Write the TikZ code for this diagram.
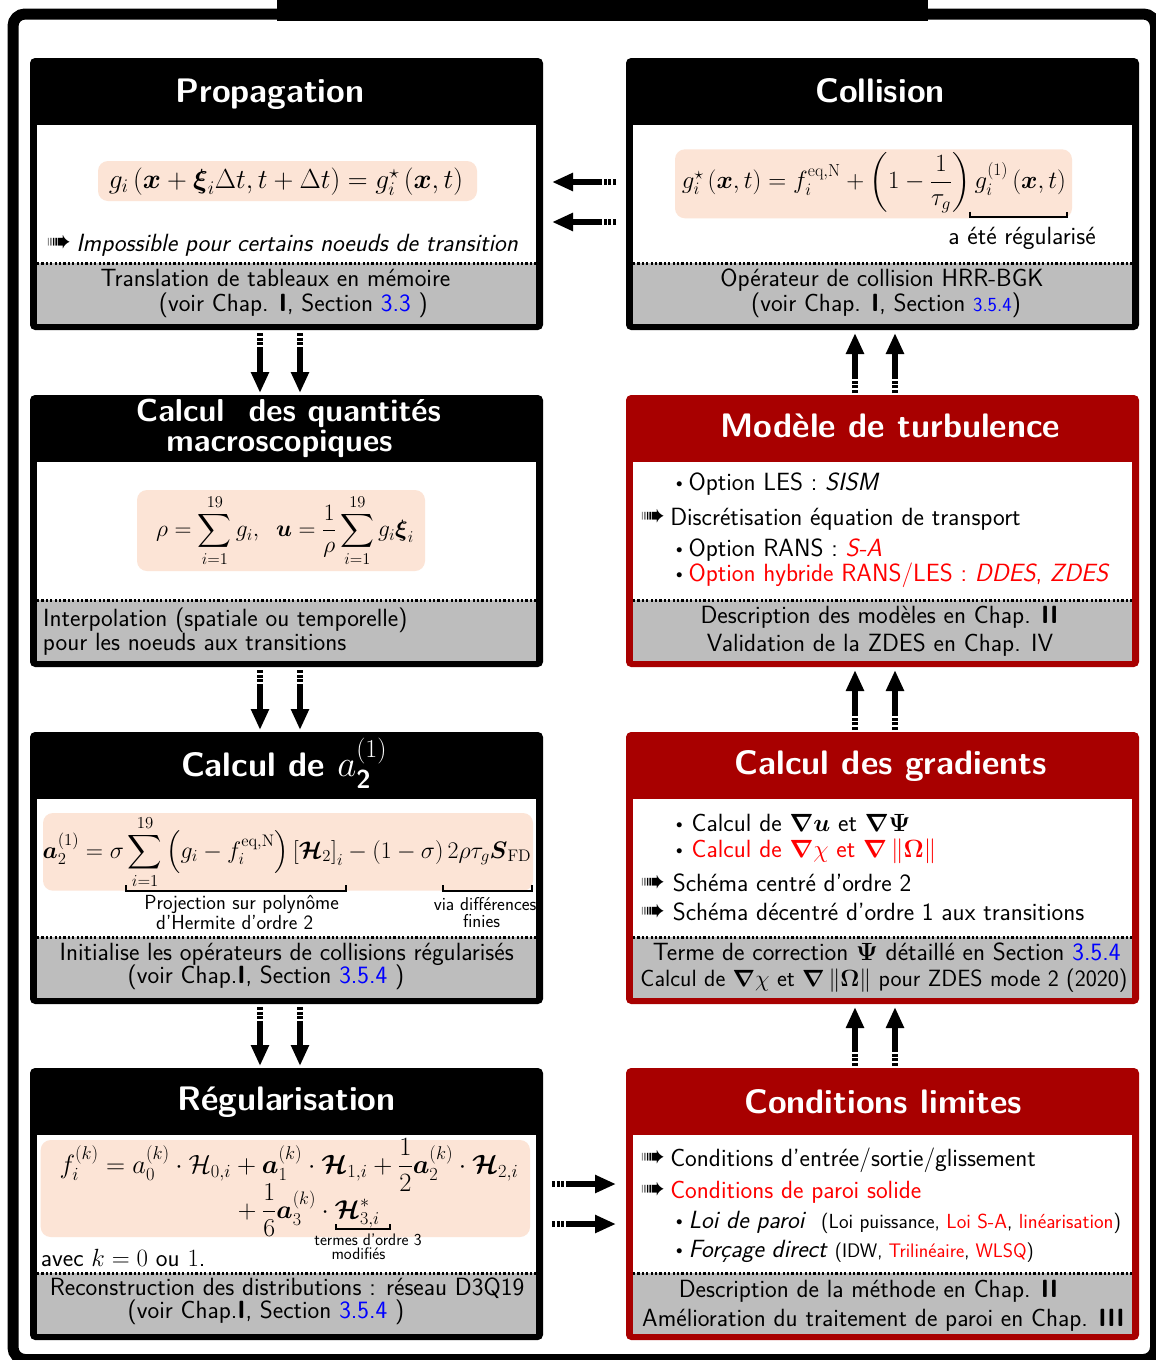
\RequirePackage{fix-cm}
\documentclass[tikz,border=0pt]{standalone}
\usepackage{amsmath,amssymb}
\usepackage{pifont}
\usetikzlibrary{arrows.meta,calc}

\definecolor{hdrred}{RGB}{168,0,0}
\definecolor{peach}{RGB}{252,228,214}
\definecolor{band}{RGB}{189,189,189}
\definecolor{refblue}{RGB}{0,0,255}

% list markers
\newcommand\itembul[1][6pt]{\raisebox{3pt}{\fontsize{13}{13}\selectfont$\bullet$}\hspace{#1}}
\newcommand\itemarr[1][5.5pt]{{\fontsize{27}{27}\selectfont\ding{224}}\hspace{#1}}

% one step of the loop: coloured frame with title band, white body and grey footer
\newcommand\drawpanel[4]{% name, frame colour, left x, top y
  \node[fill=#2, rounded corners=5pt, minimum width=513pt, minimum height=272pt,
        inner sep=0pt, outer sep=0pt, anchor=north west] (#1) at (#3,#4) {};
  \fill[white] ({#3+7},{#4+67}) rectangle ({#3+506},{#4+205});
  \fill[band] ({#3+7},{#4+205}) rectangle ({#3+506},{#4+266});
  \draw[line width=3pt, dash pattern=on 2.2pt off 2.2pt] ({#3+7},{#4+205}) -- ({#3+506},{#4+205});
}

% thick arrow with a broken tail
\newcommand\flowarrow[2]{%
  \draw[flow, dash pattern=on 3pt off 1.6pt] (#1) -- ($(#1)!0.28!(#2)$);
  \draw[flow, -{Triangle[length=21pt,width=17pt]}] ($(#1)!0.27!(#2)$) -- (#2);
}

\begin{document}
\begin{tikzpicture}[x=1pt,y=-1pt,
  hdr/.style={text=white, font=\sffamily\bfseries\fontsize{34}{36}\selectfont, inner sep=0pt, anchor=base},
  txt/.style={font=\sffamily\fontsize{24.9}{28}\selectfont, inner sep=0pt, anchor=base},
  note/.style={font=\sffamily\fontsize{20.4}{22}\selectfont, inner sep=0pt, anchor=base},
  notesm/.style={font=\sffamily\fontsize{18.6}{20}\selectfont, inner sep=0pt, anchor=base},
  notexs/.style={font=\sffamily\fontsize{16.7}{18}\selectfont, inner sep=0pt, anchor=base},
  eqn/.style={font=\fontsize{24.9}{30}\selectfont, inner sep=0pt, anchor=base},
  peachbox/.style={fill=peach, rounded corners=10pt},
  flow/.style={line width=5.5pt},
  brk/.style={line width=2pt},
]
\useasboundingbox (0,0) rectangle (1156,1360);

% outer frame and its title band
\draw[line width=11pt, rounded corners=12pt] (13,14) rectangle (1155.5,1359.5);
\fill (277,-2) rectangle (928,21);

% panels
\drawpanel{prop}{black}{30}{58}
\drawpanel{coll}{black}{626}{58}
\drawpanel{macro}{black}{30}{395}
\drawpanel{turb}{hdrred}{626}{395}
\drawpanel{atwo}{black}{30}{732}
\drawpanel{grad}{hdrred}{626}{732}
\drawpanel{regu}{black}{30}{1068}
\drawpanel{cond}{hdrred}{626}{1068}

% arrows between panels
\coordinate (a1s) at ($(prop.south)+(-26.5,3)$);  \coordinate (a1e) at ($(macro.north)+(-26.5,-2)$);
\coordinate (a2s) at ($(prop.south)+(13.5,3)$);   \coordinate (a2e) at ($(macro.north)+(13.5,-2)$);
\coordinate (a3s) at ($(macro.south)+(-26.5,3)$); \coordinate (a3e) at ($(atwo.north)+(-26.5,-2)$);
\coordinate (a4s) at ($(macro.south)+(13.5,3)$);  \coordinate (a4e) at ($(atwo.north)+(13.5,-2)$);
\coordinate (a5s) at ($(atwo.south)+(-26.5,3)$);  \coordinate (a5e) at ($(regu.north)+(-26.5,-2)$);
\coordinate (a6s) at ($(atwo.south)+(13.5,3)$);   \coordinate (a6e) at ($(regu.north)+(13.5,-2)$);
\coordinate (b1s) at ($(cond.north)+(-27.5,-2)$); \coordinate (b1e) at ($(grad.south)+(-27.5,3)$);
\coordinate (b2s) at ($(cond.north)+(12.5,-2)$);  \coordinate (b2e) at ($(grad.south)+(12.5,3)$);
\coordinate (b3s) at ($(grad.north)+(-27.5,-2)$); \coordinate (b3e) at ($(turb.south)+(-27.5,3)$);
\coordinate (b4s) at ($(grad.north)+(12.5,-2)$);  \coordinate (b4e) at ($(turb.south)+(12.5,3)$);
\coordinate (b5s) at ($(turb.north)+(-27.5,-2)$); \coordinate (b5e) at ($(coll.south)+(-27.5,3)$);
\coordinate (b6s) at ($(turb.north)+(12.5,-2)$);  \coordinate (b6e) at ($(coll.south)+(12.5,3)$);
\coordinate (h1s) at ($(coll.west)+(-10,-12)$);   \coordinate (h1e) at ($(prop.east)+(9,-12)$);
\coordinate (h2s) at ($(coll.west)+(-10,28)$);    \coordinate (h2e) at ($(prop.east)+(9,28)$);
\coordinate (h3s) at ($(regu.east)+(9,-20)$);     \coordinate (h3e) at ($(cond.west)+(-10,-20)$);
\coordinate (h4s) at ($(regu.east)+(9,20)$);      \coordinate (h4e) at ($(cond.west)+(-10,20)$);
\foreach \p in {a1,a2,a3,a4,a5,a6,b1,b2,b3,b4,b5,b6,h1,h2,h3,h4}{\flowarrow{\p s}{\p e}}

% Propagation
\node[hdr] (tProp) at (270,102.7) {Propagation};
\fill[peachbox] (98,161) rectangle (477,201);
\node[eqn, font=\fontsize{27.5}{32}\selectfont] (eqProp) at (286,188.3) {$g_i\left(\boldsymbol{x}+\boldsymbol{\xi}_i\Delta t,t+\Delta t\right)=g_i^{\star}\left(\boldsymbol{x},t\right)$};
\node[txt, anchor=base west] (nProp) at (47,251.7) {\itemarr\textit{Impossible pour certains noeuds de transition}};
\node[txt] (bProp1) at (275.5,286.7) {Translation de tableaux en mémoire};
\node[txt] (bProp2) at (293.3,311.7) {(voir Chap. \textbf{I}, Section \textcolor{refblue}{3.3} )};

% Collision
\node[hdr] (tColl) at (880,102.7) {Collision};
\fill[peachbox] (675,149.3) rectangle (1072,218.3);
\node[eqn] (eqColl) at (874,188.3) {$g_i^{\star}\left(\boldsymbol{x},t\right)=f_i^{\mathrm{eq,N}}+\left(1-\dfrac{1}{\tau_g}\right)g_i^{(1)}\left(\boldsymbol{x},t\right)$};
\draw[brk] (970,211.7) -- (970,216.7) -- (1067,216.7) -- (1067,211.7);
\node[txt] (nColl) at (1022,244.3) {a été régularisé};
\node[txt] (bColl1) at (882,286.7) {Opérateur de collision HRR-BGK};
\node[txt] (bColl2) at (886,311.7) {(voir Chap. \textbf{I}, Section \textcolor{refblue}{\fontsize{20}{20}\selectfont 3.5.4})};

% Calcul des quantites macroscopiques
\node[hdr, font=\sffamily\bfseries\fontsize{31.7}{34}\selectfont] (tMacro1) at (288.5,421.7) {Calcul\hspace{0.4em} des quantités};
\node[hdr, font=\sffamily\bfseries\fontsize{31.7}{34}\selectfont] (tMacro2) at (279.5,451.7) {macroscopiques};
\fill[peachbox] (137,490) rectangle (425,571);
\node[eqn, font=\fontsize{23.5}{28}\selectfont] (eqMacro) at (285,536.7) {$\displaystyle\rho=\sum_{i=1}^{19}g_i,\;\;\boldsymbol{u}=\frac{1}{\rho}\sum_{i=1}^{19}g_i\boldsymbol{\xi}_i$};
\node[txt, anchor=base west] (bMacro1) at (43,626) {Interpolation (spatiale ou temporelle)};
\node[txt, anchor=base west] (bMacro2) at (42.7,650) {pour les noeuds aux transitions};

% Modele de turbulence
\node[hdr] (tTurb) at (890.5,437.7) {Modèle de turbulence};
\node[txt, anchor=base west] (iTurb1) at (675.8,490) {\itembul Option LES : \textit{SISM}};
\node[txt, anchor=base west] (iTurb2) at (641,525) {\itemarr Discrétisation équation de transport};
\node[txt, anchor=base west] (iTurb3) at (675.8,556.7) {\itembul Option RANS : \textcolor{red}{\textit{S-A}}};
\node[txt, anchor=base west] (iTurb4) at (675.8,581.7) {\itembul\textcolor{red}{Option hybride RANS/LES : \textit{DDES}, \textit{ZDES}}};
\node[txt] (bTurb1) at (879.5,623.3) {Description des modèles en Chap. \textbf{II}};
\node[txt] (bTurb2) at (880,651.7) {Validation de la ZDES en Chap. IV};

% Calcul de a2
\node[hdr] (tA2) at (284,776.7) {Calcul de {\fontsize{37}{40}\selectfont$a_{\text{2}}^{(1)}$}};
\fill[peachbox] (43,813) rectangle (533,890.7);
\node[eqn, font=\fontsize{23.9}{28}\selectfont] (eqA2) at (287,858.3) {$\displaystyle\boldsymbol{a}_2^{(1)}=\sigma\sum_{i=1}^{19}\left(g_i-f_i^{\mathrm{eq,N}}\right)\left[\boldsymbol{\mathcal{H}}_2\right]_i-\left(1-\sigma\right)2\rho\tau_g\boldsymbol{S}_{\mathrm{FD}}$};
\draw[brk] (126,885) -- (126,890.7) -- (346,890.7) -- (346,885);
\draw[brk] (443,885) -- (443,890.7) -- (532,890.7) -- (532,885);
\node[note] (nA2a) at (241.7,909) {Projection sur polynôme};
\node[note] (nA2b) at (234.7,929) {d'Hermite d'ordre 2};
\node[notesm] (nA2c) at (485,910) {via différences};
\node[notesm] (nA2d) at (481.5,927) {finies};
\node[txt] (bA2a) at (286.7,960.7) {Initialise les opérateurs de collisions régularisés};
\node[txt] (bA2b) at (266,983.3) {(voir Chap.\textbf{I}, Section \textcolor{refblue}{3.5.4} )};

% Calcul des gradients
\node[hdr] (tGrad) at (890.7,774) {Calcul des gradients};
\node[txt, anchor=base west] (iGrad1) at (676,831.7) {\itembul[9pt]Calcul de $\boldsymbol{\nabla}\boldsymbol{u}$ et $\boldsymbol{\nabla}\boldsymbol{\Psi}$};
\node[txt, anchor=base west] (iGrad2) at (676,857.3) {\itembul[9pt]\textcolor{red}{Calcul de $\boldsymbol{\nabla}\chi$ et $\boldsymbol{\nabla}\left\|\boldsymbol{\Omega}\right\|$}};
\node[txt, anchor=base west] (iGrad3) at (641,891.7) {\itemarr[8pt]Schéma centré d'ordre 2};
\node[txt, anchor=base west] (iGrad4) at (641,920) {\itemarr[8pt]Schéma décentré d'ordre 1 aux transitions};
\node[txt] (bGrad1) at (886.7,960) {Terme de correction $\boldsymbol{\Psi}$ détaillé en Section \textcolor{refblue}{3.5.4}};
\node[txt, font=\sffamily\fontsize{23.5}{28}\selectfont] (bGrad2) at (884,986.7) {Calcul de $\boldsymbol{\nabla}\chi$ et $\boldsymbol{\nabla}\left\|\boldsymbol{\Omega}\right\|$ pour ZDES mode 2 (2020)};

% Regularisation
\node[hdr] (tReg) at (286.5,1110) {Régularisation};
\fill[peachbox] (40.7,1140) rectangle (530,1237);
\node[eqn, font=\fontsize{26.4}{30}\selectfont] (eqReg1) at (289,1173.3) {$f_i^{(k)}=a_0^{(k)}\cdot\mathcal{H}_{0,i}+\boldsymbol{a}_1^{(k)}\cdot\boldsymbol{\mathcal{H}}_{1,i}+\dfrac{1}{2}\boldsymbol{a}_2^{(k)}\cdot\boldsymbol{\mathcal{H}}_{2,i}$};
\node[eqn, font=\fontsize{25.8}{30}\selectfont, anchor=base west] (eqReg2) at (232,1218.3) {${}+\dfrac{1}{6}\boldsymbol{a}_3^{(k)}\cdot\boldsymbol{\mathcal{H}}^{*}_{3,i}$};
\draw[brk] (336,1224) -- (336,1229) -- (390,1229) -- (390,1224);
\node[notexs] (nReg1) at (368,1245) {termes d'ordre 3};
\node[notexs] (nReg2) at (358.5,1259) {modifiés};
\node[txt, anchor=base west] (nReg3) at (40.7,1266.7) {avec $k=0$ ou $1$.};
\node[txt] (bReg1) at (287,1295) {Reconstruction des distributions : réseau D3Q19};
\node[txt] (bReg2) at (266,1318.3) {(voir Chap.\textbf{I}, Section \textcolor{refblue}{3.5.4} )};

% Conditions limites
\node[hdr] (tCond) at (883,1113.3) {Conditions limites};
\node[txt, anchor=base west] (iCond1) at (641,1166.7) {\itemarr Conditions d'entrée/sortie/glissement};
\node[txt, anchor=base west] (iCond2) at (641,1198.3) {\itemarr\textcolor{red}{Conditions de paroi solide}};
\node[txt, anchor=base west] (iCond3) at (675.8,1228.3) {\itembul\textit{Loi de paroi}};
\node[note, anchor=base west] (iCond3b) at (821,1228.3) {(Loi puissance, \textcolor{red}{Loi S-A}, \textcolor{red}{linéarisation})};
\node[txt, anchor=base west] (iCond4) at (675.8,1257.7) {\itembul\textit{Forçage direct}};
\node[note, font=\sffamily\fontsize{19.6}{22}\selectfont, anchor=base west] (iCond4b) at (834.7,1257.7) {(IDW, \textcolor{red}{Trilinéaire}, \textcolor{red}{WLSQ})};
\node[txt] (bCond1) at (868.5,1297.7) {Description de la méthode en Chap. \textbf{II}};
\node[txt] (bCond2) at (883.4,1326.7) {Amélioration du traitement de paroi en Chap. \textbf{III}};
\end{tikzpicture}
\end{document}
